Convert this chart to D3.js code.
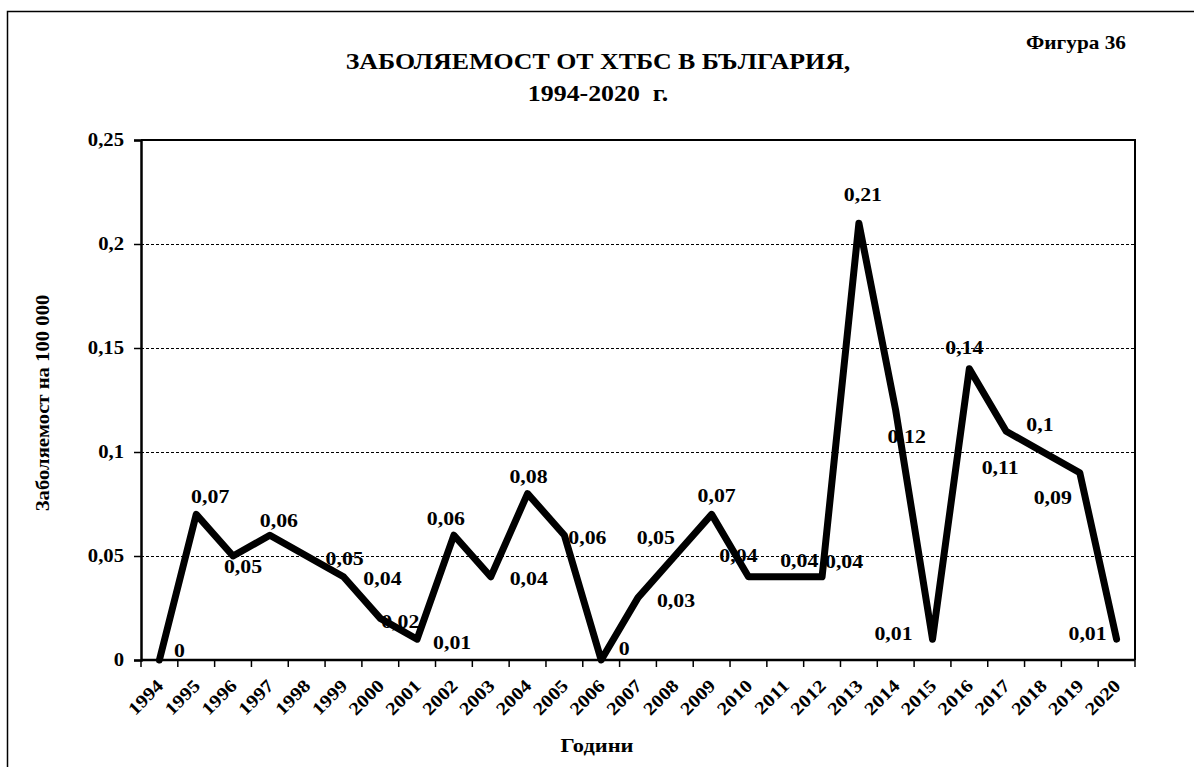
<!DOCTYPE html>
<html lang="bg">
<head>
<meta charset="utf-8">
<script src="https://cdn.jsdelivr.net/npm/d3@7"></script>
<style>
  html, body { margin: 0; padding: 0; background: #fff; }
  svg { display: block; }
  text { font-family: "Liberation Serif", "Times New Roman", serif; font-weight: bold; fill: #000; }
</style>
</head>
<body>
<svg id="chart" width="1194" height="767"></svg>
<script>
// Incidence of HTBS in Bulgaria per 100 000, 1994–2020
const years = ["1994","1995","1996","1997","1998","1999","2000","2001","2002","2003",
               "2004","2005","2006","2007","2008","2009","2010","2011","2012","2013",
               "2014","2015","2016","2017","2018","2019","2020"];
const incidence = [0, 0.07, 0.05, 0.06, 0.05, 0.04, 0.02, 0.01, 0.06, 0.04,
                   0.08, 0.06, 0, 0.03, 0.05, 0.07, 0.04, 0.04, 0.04, 0.21,
                   0.12, 0.01, 0.14, 0.11, 0.1, 0.09, 0.01];
const yTicks = [0, 0.05, 0.1, 0.15, 0.2, 0.25];

// Where each value label sits relative to its point (dx, dy in px)
const labelOffsets = [
  [20, -10], [14, -18], [10, 10], [9, -15], [38, 2], [39, 2], [20, 3], [35, 3],
  [-8, -17], [38, 2], [1, -17], [23, 2], [23, -12], [38, 3], [-19, -19], [5, -19],
  [-10, -21], [14, -16], [22, -15], [4, -29], [11, 26], [-39, -6], [-5, -21],
  [-6, 36], [-3, -28], [-27, 25], [-29, -6]
];

const fmt = v => String(v).replace(".", ",");
const SX = 1.15; // horizontal widening of the serif lettering

const svg = d3.select("#chart");
const W = 1194, H = 767;
const plot = { left: 141, right: 1135, top: 140, bottom: 660 };

// places a text at (x, y), optionally rotated, widened along its baseline
function place(x, y, rot = 0) {
  return `translate(${x},${y})` + (rot ? ` rotate(${rot})` : "") + ` scale(${SX},1)`;
}

// outer frame
svg.append("rect")
  .attr("x", 7.5).attr("y", 11.5)
  .attr("width", W + 20).attr("height", H + 20)
  .attr("fill", "none").attr("stroke", "#000").attr("stroke-width", 1.5);

const x = d3.scaleBand().domain(years).range([plot.left, plot.right]).padding(0);
const y = d3.scaleLinear().domain([0, 0.25]).range([plot.bottom, plot.top]);

// titles
svg.append("text").attr("transform", place(598, 69)).attr("text-anchor", "middle")
  .style("font-size", "22.5px").text("ЗАБОЛЯЕМОСТ ОТ ХТБС В БЪЛГАРИЯ,");
svg.append("text").attr("transform", place(598, 101)).attr("text-anchor", "middle")
  .style("font-size", "22.5px").attr("xml:space", "preserve").text("1994-2020  г.");
svg.append("text").attr("transform", place(1076, 49)).attr("text-anchor", "middle")
  .style("font-size", "18.5px").text("Фигура 36");

// dashed gridlines
svg.append("g").selectAll("line")
  .data(yTicks.filter(t => t > 0 && t < 0.25))
  .join("line")
  .attr("x1", plot.left).attr("x2", plot.right)
  .attr("y1", d => y(d) + 0.5).attr("y2", d => y(d) + 0.5)
  .attr("stroke", "#000").attr("stroke-width", 1)
  .attr("stroke-dasharray", "3,2");

// plot frame (top and right)
svg.append("path")
  .attr("d", `M${plot.left},${plot.top}H${plot.right}V${plot.bottom}`)
  .attr("fill", "none").attr("stroke", "#000").attr("stroke-width", 2);

// y axis
const yAxis = svg.append("g")
  .attr("transform", `translate(${plot.left},0)`)
  .call(d3.axisLeft(y).tickValues(yTicks).tickFormat(fmt).tickSize(7).tickPadding(10));
yAxis.select(".domain").attr("stroke-width", 2.5);
yAxis.selectAll(".tick line").attr("stroke-width", 1.5);
yAxis.selectAll(".tick text")
  .style("font-size", "18px").style("font-family", null)
  .attr("x", null).attr("dy", "0.33em")
  .attr("transform", `translate(-17,0) scale(${SX},1)`);

// x axis with ticks on band edges
const xAxis = svg.append("g").attr("transform", `translate(0,${plot.bottom})`);
xAxis.append("line").attr("x1", plot.left).attr("x2", plot.right)
  .attr("stroke", "#000").attr("stroke-width", 2.5);
const edges = years.map(d => x(d)).concat([plot.right]);
xAxis.selectAll("line.tk").data(edges).join("line").attr("class", "tk")
  .attr("x1", d => d).attr("x2", d => d).attr("y1", 0).attr("y2", 7)
  .attr("stroke", "#000").attr("stroke-width", 1.5);
xAxis.selectAll("text").data(years).join("text")
  .attr("transform", d => place(x(d) + x.bandwidth() / 2 + 5, 27, -45))
  .attr("text-anchor", "end")
  .style("font-size", "18px")
  .text(d => d);

// axis titles
svg.append("text")
  .attr("transform", place(49, 403, -90))
  .attr("text-anchor", "middle").style("font-size", "18px")
  .text("Заболяемост на 100 000");
svg.append("text").attr("transform", place(597, 752)).attr("text-anchor", "middle")
  .style("font-size", "19.5px").text("Години");

// the series line
const pts = years.map((yr, i) => ({ yr, v: incidence[i] }));
svg.append("path")
  .datum(pts)
  .attr("d", d3.line().x(d => x(d.yr) + x.bandwidth() / 2).y(d => y(d.v)))
  .attr("fill", "none").attr("stroke", "#000").attr("stroke-width", 7)
  .attr("stroke-linejoin", "round").attr("stroke-linecap", "round");

// value labels
svg.append("g").selectAll("text").data(pts).join("text")
  .attr("transform", (d, i) => place(
    x(d.yr) + x.bandwidth() / 2 + labelOffsets[i][0],
    y(d.v) + labelOffsets[i][1]))
  .attr("dy", "0.35em")
  .attr("text-anchor", "middle")
  .style("font-size", "19px")
  .text(d => fmt(d.v));
</script>
</body>
</html>
